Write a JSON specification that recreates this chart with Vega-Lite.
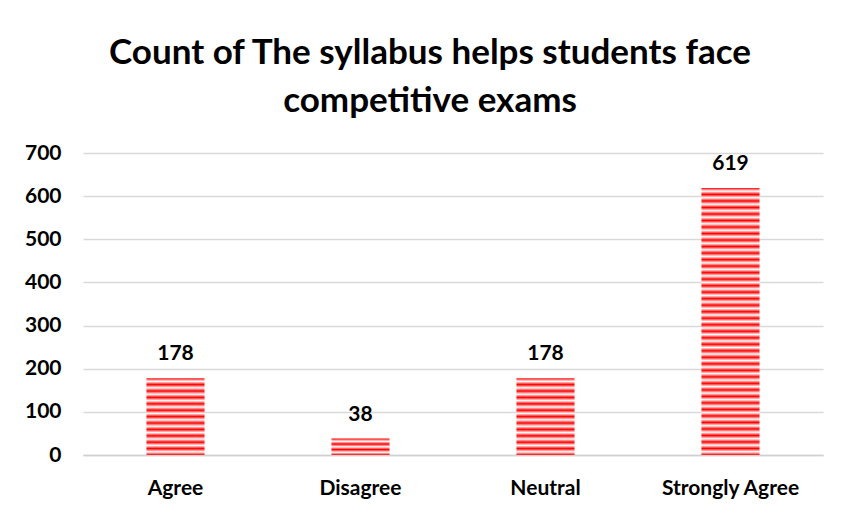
{
  "$schema": "https://vega.github.io/schema/vega-lite/v6.json",
  "width": 740,
  "height": 302,
  "autosize": {"type": "none"},
  "padding": {"left": 83, "top": 153, "right": 18, "bottom": 58},
  "background": "white",
  "title": {
    "text": ["Count of The syllabus helps students face", "competitive exams"],
    "font": "Lato",
    "fontSize": 35,
    "fontWeight": "bold",
    "color": "#000000",
    "lineHeight": 48,
    "offset": 23,
    "dx": -23,
    "anchor": "middle"
  },
  "data": {
    "values": [
      {"answer": "Agree", "count": 178},
      {"answer": "Disagree", "count": 38},
      {"answer": "Neutral", "count": 178},
      {"answer": "Strongly Agree", "count": 619}
    ]
  },
  "encoding": {
    "x": {
      "field": "answer",
      "type": "nominal",
      "sort": null,
      "title": null,
      "scale": {"paddingInner": 0.686, "paddingOuter": 0.343},
      "axis": {
        "labelAngle": 0,
        "labelFont": "Lato",
        "labelFontSize": 21,
        "labelFontWeight": "bold",
        "labelColor": "#000000",
        "labelPadding": 22,
        "ticks": false,
        "domainColor": "#d0d0d0",
        "domainWidth": 1.5
      }
    },
    "y": {
      "field": "count",
      "type": "quantitative",
      "title": null,
      "scale": {"domain": [0, 700]},
      "axis": {
        "values": [0, 100, 200, 300, 400, 500, 600, 700],
        "labelFont": "Lato",
        "labelFontSize": 21,
        "labelFontWeight": "bold",
        "labelColor": "#000000",
        "labelPadding": 22,
        "ticks": false,
        "domain": false,
        "gridColor": "#d9d9d9",
        "gridWidth": 1.5
      }
    }
  },
  "layer": [
    {
      "mark": {"type": "bar"},
      "encoding": {
        "fill": {
          "condition": [
            {
              "test": "datum.answer === 'Disagree'",
              "value": {
                "gradient": "linear", "x1": 0, "y1": 0, "x2": 0, "y2": 1,
                "stops": [
                  {"offset": 0, "color": "#ff0000"}, {"offset": 0.1667, "color": "#ffffff"},
                  {"offset": 0.3333, "color": "#ff0000"}, {"offset": 0.5, "color": "#ffffff"},
                  {"offset": 0.6667, "color": "#ff0000"}, {"offset": 0.8333, "color": "#ffffff"},
                  {"offset": 1, "color": "#ff0000"}
                ]
              }
            },
            {
              "test": "datum.answer === 'Strongly Agree'",
              "value": {
                "gradient": "linear", "x1": 0, "y1": 0, "x2": 0, "y2": 1,
                "stops": [
                  {"offset": 0, "color": "#ff0000"}, {"offset": 0.0122, "color": "#ffffff"},
                  {"offset": 0.0244, "color": "#ff0000"}, {"offset": 0.0366, "color": "#ffffff"},
                  {"offset": 0.0488, "color": "#ff0000"}, {"offset": 0.0610, "color": "#ffffff"},
                  {"offset": 0.0732, "color": "#ff0000"}, {"offset": 0.0854, "color": "#ffffff"},
                  {"offset": 0.0976, "color": "#ff0000"}, {"offset": 0.1098, "color": "#ffffff"},
                  {"offset": 0.1220, "color": "#ff0000"}, {"offset": 0.1341, "color": "#ffffff"},
                  {"offset": 0.1463, "color": "#ff0000"}, {"offset": 0.1585, "color": "#ffffff"},
                  {"offset": 0.1707, "color": "#ff0000"}, {"offset": 0.1829, "color": "#ffffff"},
                  {"offset": 0.1951, "color": "#ff0000"}, {"offset": 0.2073, "color": "#ffffff"},
                  {"offset": 0.2195, "color": "#ff0000"}, {"offset": 0.2317, "color": "#ffffff"},
                  {"offset": 0.2439, "color": "#ff0000"}, {"offset": 0.2561, "color": "#ffffff"},
                  {"offset": 0.2683, "color": "#ff0000"}, {"offset": 0.2805, "color": "#ffffff"},
                  {"offset": 0.2927, "color": "#ff0000"}, {"offset": 0.3049, "color": "#ffffff"},
                  {"offset": 0.3171, "color": "#ff0000"}, {"offset": 0.3293, "color": "#ffffff"},
                  {"offset": 0.3415, "color": "#ff0000"}, {"offset": 0.3537, "color": "#ffffff"},
                  {"offset": 0.3659, "color": "#ff0000"}, {"offset": 0.3780, "color": "#ffffff"},
                  {"offset": 0.3902, "color": "#ff0000"}, {"offset": 0.4024, "color": "#ffffff"},
                  {"offset": 0.4146, "color": "#ff0000"}, {"offset": 0.4268, "color": "#ffffff"},
                  {"offset": 0.4390, "color": "#ff0000"}, {"offset": 0.4512, "color": "#ffffff"},
                  {"offset": 0.4634, "color": "#ff0000"}, {"offset": 0.4756, "color": "#ffffff"},
                  {"offset": 0.4878, "color": "#ff0000"}, {"offset": 0.5000, "color": "#ffffff"},
                  {"offset": 0.5122, "color": "#ff0000"}, {"offset": 0.5244, "color": "#ffffff"},
                  {"offset": 0.5366, "color": "#ff0000"}, {"offset": 0.5488, "color": "#ffffff"},
                  {"offset": 0.5610, "color": "#ff0000"}, {"offset": 0.5732, "color": "#ffffff"},
                  {"offset": 0.5854, "color": "#ff0000"}, {"offset": 0.5976, "color": "#ffffff"},
                  {"offset": 0.6098, "color": "#ff0000"}, {"offset": 0.6220, "color": "#ffffff"},
                  {"offset": 0.6341, "color": "#ff0000"}, {"offset": 0.6463, "color": "#ffffff"},
                  {"offset": 0.6585, "color": "#ff0000"}, {"offset": 0.6707, "color": "#ffffff"},
                  {"offset": 0.6829, "color": "#ff0000"}, {"offset": 0.6951, "color": "#ffffff"},
                  {"offset": 0.7073, "color": "#ff0000"}, {"offset": 0.7195, "color": "#ffffff"},
                  {"offset": 0.7317, "color": "#ff0000"}, {"offset": 0.7439, "color": "#ffffff"},
                  {"offset": 0.7561, "color": "#ff0000"}, {"offset": 0.7683, "color": "#ffffff"},
                  {"offset": 0.7805, "color": "#ff0000"}, {"offset": 0.7927, "color": "#ffffff"},
                  {"offset": 0.8049, "color": "#ff0000"}, {"offset": 0.8171, "color": "#ffffff"},
                  {"offset": 0.8293, "color": "#ff0000"}, {"offset": 0.8415, "color": "#ffffff"},
                  {"offset": 0.8537, "color": "#ff0000"}, {"offset": 0.8659, "color": "#ffffff"},
                  {"offset": 0.8780, "color": "#ff0000"}, {"offset": 0.8902, "color": "#ffffff"},
                  {"offset": 0.9024, "color": "#ff0000"}, {"offset": 0.9146, "color": "#ffffff"},
                  {"offset": 0.9268, "color": "#ff0000"}, {"offset": 0.9390, "color": "#ffffff"},
                  {"offset": 0.9512, "color": "#ff0000"}, {"offset": 0.9634, "color": "#ffffff"},
                  {"offset": 0.9756, "color": "#ff0000"}, {"offset": 0.9878, "color": "#ffffff"},
                  {"offset": 1, "color": "#ff0000"}
                ]
              }
            }
          ],
          "value": {
            "gradient": "linear", "x1": 0, "y1": 0, "x2": 0, "y2": 1,
            "stops": [
              {"offset": 0, "color": "#ff0000"}, {"offset": 0.0417, "color": "#ffffff"},
              {"offset": 0.0833, "color": "#ff0000"}, {"offset": 0.125, "color": "#ffffff"},
              {"offset": 0.1667, "color": "#ff0000"}, {"offset": 0.2083, "color": "#ffffff"},
              {"offset": 0.25, "color": "#ff0000"}, {"offset": 0.2917, "color": "#ffffff"},
              {"offset": 0.3333, "color": "#ff0000"}, {"offset": 0.375, "color": "#ffffff"},
              {"offset": 0.4167, "color": "#ff0000"}, {"offset": 0.4583, "color": "#ffffff"},
              {"offset": 0.5, "color": "#ff0000"}, {"offset": 0.5417, "color": "#ffffff"},
              {"offset": 0.5833, "color": "#ff0000"}, {"offset": 0.625, "color": "#ffffff"},
              {"offset": 0.6667, "color": "#ff0000"}, {"offset": 0.7083, "color": "#ffffff"},
              {"offset": 0.75, "color": "#ff0000"}, {"offset": 0.7917, "color": "#ffffff"},
              {"offset": 0.8333, "color": "#ff0000"}, {"offset": 0.875, "color": "#ffffff"},
              {"offset": 0.9167, "color": "#ff0000"}, {"offset": 0.9583, "color": "#ffffff"},
              {"offset": 1, "color": "#ff0000"}
            ]
          }
        }
      }
    },
    {
      "mark": {
        "type": "text",
        "font": "Lato",
        "fontSize": 21,
        "fontWeight": "bold",
        "color": "#000000",
        "baseline": "alphabetic",
        "dy": -18
      },
      "encoding": {
        "text": {"field": "count", "type": "quantitative"}
      }
    }
  ],
  "config": {
    "view": {"stroke": null}
  }
}
